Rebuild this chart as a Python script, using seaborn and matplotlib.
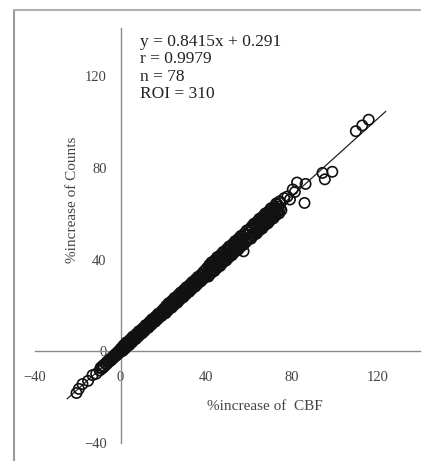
import matplotlib
matplotlib.use("Agg")
import matplotlib.pyplot as plt
from matplotlib.lines import Line2D
import pandas as pd
import seaborn as sns

# % increase of CBF (x) and % increase of counts (y), one pair per ROI
cbf_increase = [
    -20.6, -19.5, -17.8, -15.2, -13.1, -11.4,
    -9.8, -9.3, -8.7, -8.2, -7.8, -7.1, -6.6, -6.2, -5.7, -5.1, -4.6, -4.2,
    -3.8, -3.3, -2.9, -2.4, -2.0, -1.7, -1.3, -0.9, -0.6, -0.3, -0.1, 0.0,
    0.3, 0.5, 0.9, 1.2, 1.4, 1.8, 2.1, 2.3, 2.7, 3.0, 3.2, 3.6, 3.9, 4.1, 4.5,
    4.8, 5.0, 5.4, 5.7, 5.9, 6.3, 6.6, 6.8, 7.2, 7.5, 7.7, 8.1, 8.4, 8.6, 9.0,
    9.3, 9.5, 9.9, 10.2, 10.4, 10.8, 11.1, 11.3, 11.7, 12.0, 12.2, 12.6, 12.9,
    13.1, 13.5, 13.8, 14.0, 14.4, 14.7, 14.9, 15.3, 15.6, 15.8, 16.2, 16.5,
    16.7, 17.1, 17.4, 17.6, 18.0, 18.3, 18.5, 18.9, 19.2, 19.4, 19.8, 20.0,
    20.3, 20.6, 20.8, 21.1, 21.4, 21.7, 21.9, 22.2, 22.5, 22.8, 23.0, 23.3,
    23.6, 23.9, 24.1, 24.4, 24.7, 25.0, 25.2, 25.5, 25.8, 26.1, 26.3, 26.6,
    26.9, 27.2, 27.4, 27.7, 28.0, 28.3, 28.5, 28.8, 29.1, 29.4, 29.6, 29.9,
    30.2, 30.5, 30.7, 31.0, 31.3, 31.6, 31.8, 32.1, 32.4, 32.7, 32.9, 33.2,
    33.5, 33.8, 34.0, 34.3, 34.6, 34.9, 35.1, 35.4, 35.7, 36.0, 36.2, 36.5,
    36.8, 37.1, 37.3, 37.6, 37.9, 38.2, 38.4, 38.7, 39.0, 39.4,
    40.3, 40.6, 40.8, 41.1, 41.4, 41.7, 41.9, 42.2, 42.5, 42.8, 43.0, 43.3,
    43.6, 43.9, 44.1, 44.4, 44.7, 45.0, 45.2, 45.5, 45.8, 46.1, 46.3, 46.6,
    46.9, 47.2, 47.4, 47.7, 48.0, 48.3, 48.5, 48.8, 49.1, 49.4, 49.6, 49.9,
    50.2, 50.5, 50.7, 51.0, 51.3, 51.6, 51.8, 52.1, 52.4, 52.7, 52.9, 53.2,
    53.5, 53.8, 54.0, 54.3, 54.6, 54.9, 55.1, 55.4, 55.7, 56.0, 56.2, 56.5,
    56.8, 57.1, 57.3, 57.6, 57.9, 58.2, 58.4, 58.7, 59.0, 59.4,
    60.2, 60.5, 60.7, 61.0, 61.3, 61.5, 61.8, 62.0, 62.3, 62.6, 62.8, 63.1,
    63.4, 63.6, 63.9, 64.1, 64.4, 64.7, 64.9, 65.2, 65.5, 65.7, 66.0, 66.2,
    66.5, 66.8, 67.0, 67.3, 67.6, 67.8, 68.1, 68.3, 68.6, 68.9, 69.1, 69.4,
    69.7, 69.9, 70.2, 70.4, 70.7, 71.0, 71.2, 71.5, 71.8, 72.0, 72.3, 72.5,
    72.8, 73.1, 73.3, 73.6, 73.9, 74.1, 74.4, 74.6, 74.9, 75.2,
    57.5, 76.5, 78.0, 79.2, 80.5, 81.5, 82.5, 86.5, 86.0, 94.4, 95.5, 99.0,
    110.0, 113.0, 116.0,
]
counts_increase = [
    -18.2, -16.4, -14.3, -12.9, -10.4, -9.8,
    -8.4, -7.1, -7.6, -6.2, -6.9, -5.3, -5.8, -4.4, -4.9, -3.6, -4.1, -2.8,
    -3.4, -2.1, -2.6, -1.2, -1.9, -0.7, -1.3, 0.1, -0.7, 0.5, -0.3, 0.8,
    1.4, 0.1, 1.3, 0.3, 2.6, 1.5, 2.6, 1.3, 3.9, 2.3, 3.8, 2.7, 3.8, 2.7, 5.2,
    4.0, 5.0, 3.9, 6.4, 4.8, 6.4, 5.2, 6.2, 5.4, 7.7, 6.5, 7.6, 6.5, 8.8, 7.4,
    8.9, 7.7, 8.8, 7.9, 10.1, 9.1, 10.1, 8.9, 11.4, 9.9, 11.4, 10.3, 11.4,
    10.3, 12.8, 11.6, 12.6, 11.5, 14.0, 12.3, 14.0, 12.8, 13.8, 12.9, 15.3,
    14.0, 15.2, 14.0, 16.4, 14.9, 16.5, 15.3, 16.4, 15.4, 17.7, 16.7, 17.6,
    18.6, 16.8, 18.2, 16.6, 19.9, 18.1, 19.5, 17.8, 21.0, 18.8, 20.8, 19.1,
    20.5, 19.0, 22.1, 20.4, 21.9, 20.1, 23.3, 21.0, 23.2, 21.4, 22.8, 21.2,
    24.5, 22.8, 24.1, 22.4, 25.6, 23.4, 25.4, 23.7, 25.1, 23.6, 26.8, 25.0,
    26.5, 24.7, 27.9, 25.6, 27.8, 26.0, 27.4, 25.9, 29.1, 27.4, 28.7, 27.0,
    30.2, 28.0, 30.1, 28.3, 29.8, 28.2, 31.4, 29.6, 31.1, 29.3, 32.5, 30.3,
    32.4, 30.7, 32.0, 30.5, 33.7, 32.0, 33.4, 31.6, 34.9, 32.7,
    36.2, 32.9, 35.2, 32.6, 37.6, 34.6, 36.8, 33.9, 38.8, 35.2, 38.4, 35.2,
    37.5, 35.0, 39.8, 36.9, 39.2, 36.2, 41.1, 37.4, 40.8, 37.5, 39.8, 37.2,
    42.2, 39.2, 41.4, 38.5, 43.4, 39.8, 43.0, 39.8, 42.1, 39.6, 44.5, 41.5,
    43.8, 40.8, 45.7, 42.0, 45.4, 42.1, 44.4, 41.9, 46.8, 43.9, 46.0, 43.1,
    48.0, 44.4, 47.7, 44.4, 46.8, 44.2, 49.1, 46.1, 48.4, 45.4, 50.3, 46.7,
    50.0, 46.8, 49.0, 46.5, 51.4, 48.5, 50.7, 47.7, 52.7, 49.1,
    53.1, 49.5, 52.0, 49.1, 54.4, 51.2, 53.6, 50.4, 55.6, 51.7, 55.3, 51.7,
    54.3, 51.3, 56.6, 53.3, 55.8, 52.6, 57.8, 53.9, 57.5, 53.9, 56.4, 53.5,
    58.8, 55.6, 58.0, 54.8, 60.1, 56.1, 59.7, 56.1, 58.6, 55.8, 60.9, 57.8,
    60.2, 57.0, 62.3, 58.2, 61.9, 58.3, 60.8, 58.0, 63.2, 60.0, 62.4, 59.2,
    64.5, 60.5, 64.1, 60.5, 63.1, 60.1, 65.4, 62.2, 64.6, 61.5,
    43.6, 66.8, 67.5, 66.2, 70.6, 69.5, 73.6, 73.0, 64.7, 77.8, 75.0, 78.3,
    96.0, 98.5, 101.0,
]

# regression reported for the ROIs
slope, intercept = 0.8415, 0.291
fit_x = [-25, 124]
stats_lines = ["y = 0.8415x + 0.291", "r = 0.9979", "n = 78", "ROI = 310"]

x_ticks = [-40, 0, 40, 80, 120]
y_ticks = [-40, 0, 40, 80, 120]
x_title = "%increase of  CBF"
y_title = "%increase of Counts"

sns.set_style("white")
plt.rcParams["font.family"] = ["Liberation Serif", "DejaVu Serif"]

W, H = 437, 461
fig = plt.figure(figsize=(W / 100, H / 100), dpi=100)
ax = fig.add_axes([35 / W, 1 - 443 / H, 385 / W, 415 / H])

df = pd.DataFrame({"cbf": cbf_increase, "counts": counts_increase})
sns.scatterplot(data=df, x="cbf", y="counts", ax=ax, marker="o", s=55,
                facecolor="none", edgecolor="#111111", linewidth=1.2, zorder=3)

fit_y = [slope * v + intercept for v in fit_x]
sns.lineplot(x=fit_x, y=fit_y, ax=ax, color="#222222", linewidth=0.9, zorder=2)

ax.set_xlim(-40, 140)
ax.set_ylim(-40, 141)
ax.set_xticks(x_ticks)
ax.set_yticks(y_ticks)
ax.set_xlabel("")
ax.set_ylabel("")

for side in ("top", "right"):
    ax.spines[side].set_visible(False)
for side in ("left", "bottom"):
    ax.spines[side].set_position(("data", 0))
    ax.spines[side].set_color("#8a8a8a")
    ax.spines[side].set_linewidth(1.0)

ax.tick_params(axis="x", direction="out", length=3, width=0.8, color="#8a8a8a",
               pad=11, labelsize=10.5, labelcolor="#444444")
ax.tick_params(axis="y", direction="out", length=3, width=0.8, color="#8a8a8a",
               pad=7, labelsize=10.5, labelcolor="#444444")

ax.text(9, 138.5, "\n".join(stats_lines), va="top", ha="left", fontsize=12.5,
        linespacing=1.12, color="#222222")

fig.text(265 / W, 1 - 406 / H, x_title, ha="center", va="center",
         fontsize=11, color="#444444")
fig.text(72 / W, 1 - 200 / H, y_title, ha="center", va="center",
         rotation=90, fontsize=11, color="#444444")

# frame of the figure panel
fig.add_artist(Line2D([14 / W, 14 / W], [0, 1 - 10 / H], transform=fig.transFigure,
                      color="#9a9a9a", linewidth=1.5))
fig.add_artist(Line2D([14 / W, 420 / W], [1 - 10 / H, 1 - 10 / H],
                      transform=fig.transFigure, color="#b0b0b0", linewidth=1.5))

fig.savefig("out.png", dpi=100, facecolor="white")
